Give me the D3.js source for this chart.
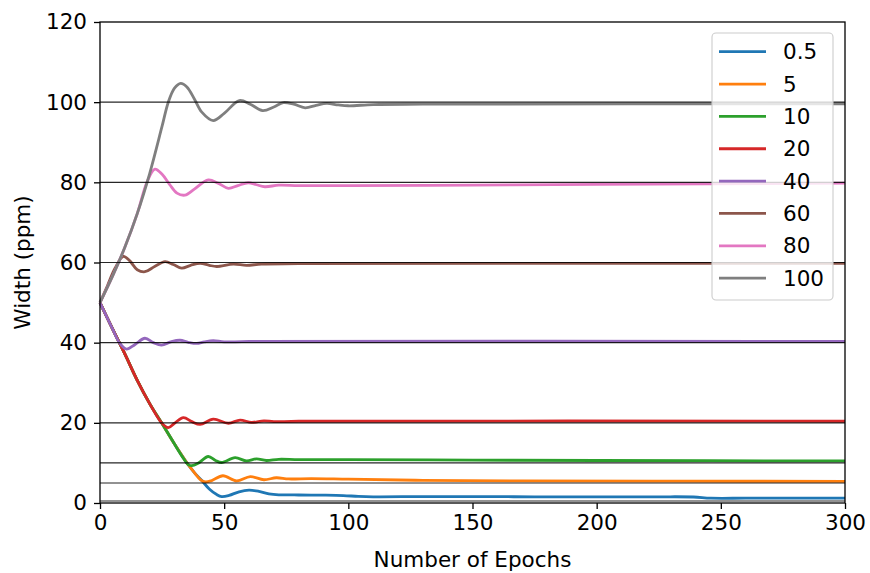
<!DOCTYPE html>
<html>
<head>
<meta charset="utf-8">
<script src="https://cdn.jsdelivr.net/npm/d3@7"></script>
<style>
    body { margin: 0; background: #fff; }
    text { font-family: "DejaVu Sans", sans-serif; }
</style>
</head>
<body>
<div id="chart"></div>
<script>
// legend labels / target widths (ppm)
const targets = [0.5, 5, 10, 20, 40, 60, 80, 100];
const labels = ["0.5", "5", "10", "20", "40", "60", "80", "100"];
const colors = ["#1f77b4", "#ff7f0e", "#2ca02c", "#d62728", "#9467bd", "#8c564b", "#e377c2", "#7f7f7f"];
const xTicks = [0, 50, 100, 150, 200, 250, 300];
const yTicks = [0, 20, 40, 60, 80, 100, 120];

// [epoch, width]
const w05 = [[0,50],[5,43.5],[10,37.2],[15,30.6],[20,24.8],[25,19.8],[30,14.7],[35,10],[38,7.6],[41,5.6],[44,3.5],[47,2.1],[49,1.6],[52,1.9],[56,2.8],[60,3.2],[64,2.9],[68,2.3],[72,2.05],[80,2.0],[90,1.95],[98,1.85],[104,1.65],[110,1.55],[130,1.6],[150,1.6],[175,1.55],[200,1.55],[225,1.55],[239,1.5],[246,1.2],[260,1.2],[280,1.2],[300,1.2]];
const w5 = [[0,50],[5,43.5],[10,37.2],[15,30.6],[20,24.8],[25,19.8],[30,14.7],[35,10],[38,7.6],[40.5,5.8],[42.5,5.25],[45,5.6],[49.5,6.8],[55,5.5],[60.5,6.6],[66,5.8],[71,6.3],[76,6.0],[85,6.1],[100,5.95],[130,5.65],[170,5.5],[230,5.45],[300,5.4]];
const w10 = [[0,50],[5,43.5],[10,37.2],[15,30.6],[20,24.8],[25,19.8],[30,14.7],[33,11.7],[35.5,9.6],[37,9.3],[39.5,9.9],[43.6,11.6],[46.5,10.6],[49,10.1],[54.4,11.3],[59,10.5],[63,11],[67,10.6],[72,10.9],[80,10.8],[100,10.8],[150,10.7],[200,10.6],[300,10.5]];
const w20 = [[0,50],[5,43.5],[10,37.2],[15,30.6],[20,24.8],[24.8,20],[27.5,18.8],[30,19.9],[33.6,21.3],[37,20.3],[40.3,19.6],[45.6,20.9],[51.7,19.9],[56.4,20.7],[61,20.1],[66,20.5],[70,20.3],[80,20.4],[300,20.4]];
const w40 = [[0,50],[5,43.5],[8,39.8],[10.7,38.4],[14,39.5],[18.1,41.1],[21.5,40],[24.8,39.4],[28.5,40.2],[32.2,40.6],[35.5,40.1],[38.9,39.8],[42,40.2],[45.6,40.5],[50,40.2],[60,40.3],[300,40.3]];
const w60 = [[0,50],[3,54.2],[6,58.5],[9.4,61.5],[12,60.4],[15,58.2],[18.1,57.7],[22,59],[26.2,60.2],[29.5,59.5],[32.9,58.6],[36.5,59.3],[40.3,59.8],[44,59.3],[47,59],[53.7,59.6],[59,59.3],[65,59.6],[80,59.7],[300,59.8]];
const w80 = [[0,50],[5,56.5],[10,63.8],[15,72.2],[19,80.2],[22.1,83.3],[25,82],[28,79.5],[31,77.3],[34.2,76.8],[38,78.3],[43.6,80.6],[47.5,79.8],[51.7,78.5],[55.5,79.2],[59.7,79.9],[63,79.4],[66.4,78.9],[72,79.3],[80,79.2],[100,79.2],[150,79.3],[200,79.5],[300,79.8]];
const w100 = [[0,50],[5,56.5],[10,63.8],[15,72.2],[20,82.2],[25,94],[27.5,100],[30,103.5],[32.5,104.7],[35,103.8],[38,100.8],[41,97.5],[45.6,95.4],[50,97.2],[56.1,100.4],[60.5,99.5],[65.5,97.9],[70,98.8],[73.8,99.9],[78,99.5],[82.6,98.6],[87,99.2],[91.3,99.7],[96,99.3],[100,99.1],[110,99.4],[130,99.5],[300,99.6]];

const series = [w05, w5, w10, w20, w40, w60, w80, w100];

const width = 870, height = 573;
const margin = { top: 22, right: 25, bottom: 70, left: 100 };
const fontSize = "21.5px";

const svg = d3.select("#chart").append("svg")
    .attr("width", width)
    .attr("height", height);

const x = d3.scaleLinear().domain([0, 300]).range([margin.left, width - margin.right]);
const y = d3.scaleLinear().domain([0, 120]).range([height - margin.bottom, margin.top]);

const line = d3.line()
    .x(d => x(d[0]))
    .y(d => y(d[1]))
    .curve(d3.curveCatmullRom.alpha(0.5));

// data lines
svg.append("g")
    .selectAll("path")
    .data(series)
    .join("path")
    .attr("d", d => line(d))
    .attr("fill", "none")
    .attr("stroke", (d, i) => colors[i])
    .attr("stroke-width", 2.8)
    .attr("stroke-linejoin", "round");

// target lines
svg.append("g")
    .selectAll("line")
    .data(targets)
    .join("line")
    .attr("x1", x(0))
    .attr("x2", x(300))
    .attr("y1", d => y(d))
    .attr("y2", d => y(d))
    .attr("stroke", "#000")
    .attr("stroke-opacity", 0.85)
    .attr("stroke-width", 1.1);

// axes
const xAxis = svg.append("g")
    .attr("transform", `translate(0,${y(0)})`)
    .call(d3.axisBottom(x).tickValues(xTicks).tickSize(6).tickPadding(6).tickSizeOuter(0));
const yAxis = svg.append("g")
    .attr("transform", `translate(${x(0)},0)`)
    .call(d3.axisLeft(y).tickValues(yTicks).tickSize(6).tickPadding(7).tickSizeOuter(0));

[xAxis, yAxis].forEach(a => {
    a.select(".domain").remove();
    a.selectAll(".tick line").attr("stroke", "#000").attr("stroke-width", 1.3);
    a.selectAll(".tick text")
        .attr("fill", "#000")
        .style("font-size", fontSize)
        .style("font-family", "DejaVu Sans");
});

// frame
svg.append("rect")
    .attr("x", x(0))
    .attr("y", y(120))
    .attr("width", x(300) - x(0))
    .attr("height", y(0) - y(120))
    .attr("fill", "none")
    .attr("stroke", "#000")
    .attr("stroke-width", 1.3);

svg.append("text")
    .attr("x", (x(0) + x(300)) / 2)
    .attr("y", 567)
    .attr("text-anchor", "middle")
    .style("font-size", fontSize)
    .text("Number of Epochs");

svg.append("text")
    .attr("transform", `translate(30,${(y(0) + y(120)) / 2}) rotate(-90)`)
    .attr("text-anchor", "middle")
    .style("font-size", fontSize)
    .text("Width (ppm)");

// legend
const legend = svg.append("g");
legend.append("rect")
    .attr("x", 712)
    .attr("y", 33)
    .attr("width", 121)
    .attr("height", 267)
    .attr("rx", 4)
    .attr("fill", "#fff")
    .attr("fill-opacity", 0.8)
    .attr("stroke", "#ccc")
    .attr("stroke-width", 1.1);

const rows = legend.selectAll("g.row")
    .data(labels)
    .join("g")
    .attr("class", "row")
    .attr("transform", (d, i) => `translate(0,${51.7 + i * 32.35})`);

rows.append("line")
    .attr("x1", 719)
    .attr("x2", 766)
    .attr("stroke", (d, i) => colors[i])
    .attr("stroke-width", 2.8);

rows.append("text")
    .attr("x", 783)
    .attr("dy", "0.35em")
    .style("font-size", fontSize)
    .text(d => d);
</script>
</body>
</html>
